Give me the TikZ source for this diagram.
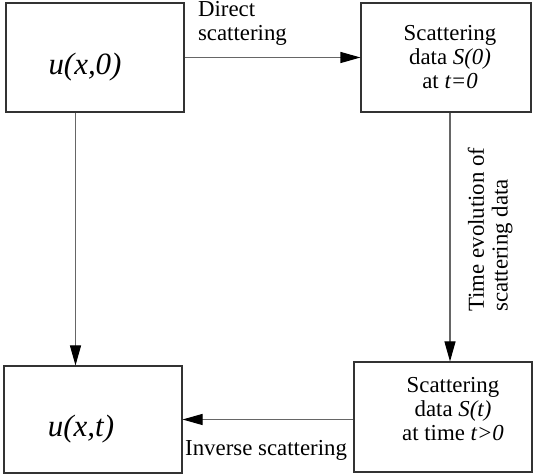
\documentclass[tikz,border=0pt]{standalone}
\usepackage{fontspec}
\setmainfont{Liberation Serif}
\usetikzlibrary{arrows.meta}
\tikzset{
  box/.style={draw=black!80,line width=0.6pt,minimum width=3.56cm,
              minimum height=2.18cm,inner sep=0pt},
  lbl/.style={font=\fontsize{13}{13.5}\selectfont},
  bigtext/.style={font=\fontsize{17.6}{20}\selectfont,inner sep=0pt},
  arr/.style={draw=black!60,line width=0.6pt,
              -{Triangle[length=0.4cm,width=0.22cm,color=black]}}
}
\begin{document}
\begin{tikzpicture}[x=1cm,y=1cm]
  \path[use as bounding box,fill=white] (0,0) rectangle (10.68,9.5);
  % the four boxes
  \node[box] (ux0box) at (1.90,8.35) {};
  \node[bigtext] (ux0) at ([shift={(-0.20,-0.19)}]ux0box.center) {\textit{u(x,0)}};
  \node[box,minimum width=3.40cm] (s0box) at (8.92,8.35) {};
  \node[lbl,align=center] (s0) at ([shift={(0.08,0.01)}]s0box.center)
    {Scattering\\data \textit{S(0)}\\at \textit{t=0}};
  \node[box,minimum height=2.14cm] (uxtbox) at (1.86,1.11) {};
  \node[bigtext] (uxt) at ([shift={(-0.24,-0.19)}]uxtbox.center) {\textit{u(x,t)}};
  \node[box,minimum height=2.20cm] (stbox) at (8.86,1.16) {};
  \node[lbl,align=center] (st) at ([shift={(0.20,0.16)}]stbox.center)
    {Scattering\\data \textit{S(t)}\\at time \textit{t>0}};
  % connectors
  \draw[arr] (ux0box.east) --
    node[lbl,pos=0,anchor=south west,align=left,inner sep=0pt,
         xshift=0.26cm,yshift=0.24cm] (dirlbl) {Direct\\scattering}
    (ux0box.east -| s0box.west);
  \draw[arr] ([xshift=-0.39cm]ux0box.south) -- ([xshift=-0.39cm]ux0box.south |- uxtbox.north);
  \draw[arr] ([xshift=0.08cm]s0box.south) -- ([xshift=0.08cm]s0box.south |- stbox.north);
  \node[lbl,rotate=90,align=left,anchor=north west,inner sep=0pt] (evolbl)
    at (9.35,3.26) {Time evolution of\\scattering data};
  \draw[arr] (stbox.west |- uxtbox.east) --
    node[lbl,pos=0,anchor=base east,inner sep=0pt,
         xshift=-0.12cm,yshift=-0.72cm] (invlbl) {Inverse scattering}
    (uxtbox.east);
\end{tikzpicture}
\end{document}
